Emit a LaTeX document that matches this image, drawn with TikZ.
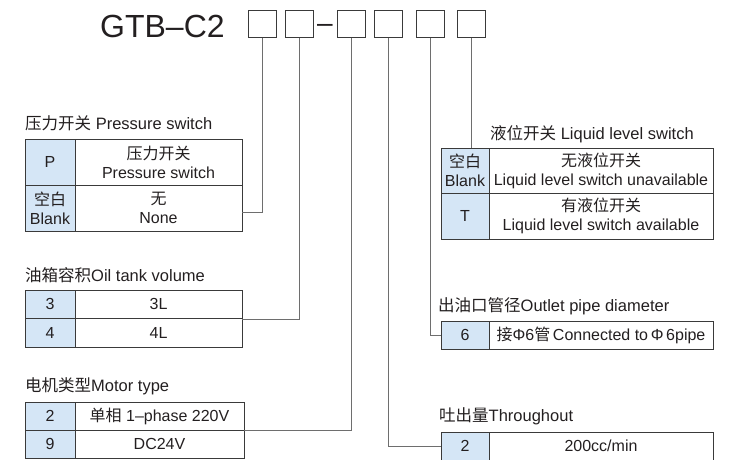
\documentclass[tikz,border=0pt]{standalone}
\usepackage{fontspec}
\setmainfont{Liberation Sans}
\newfontfamily\cjk{Noto Sans CJK SC}
\usetikzlibrary{calc}
\definecolor{cellblue}{HTML}{D5E6F6}
\definecolor{rulec}{HTML}{3A3A3A}
\definecolor{wirec}{HTML}{6E6E6E}
\definecolor{inkc}{HTML}{231F20}

\begin{document}
\begin{tikzpicture}[x=1pt,y=-1pt,text=inkc,
  box/.style={draw=rulec,line width=1pt,minimum width=28pt,minimum height=27pt,inner sep=0pt},
  code/.style={draw=rulec,line width=0.9pt,fill=cellblue,inner sep=0pt,align=center,font=\fontsize{16}{19}\selectfont},
  desc/.style={draw=rulec,line width=0.9pt,inner sep=0pt,align=center,font=\fontsize{16}{19}\selectfont},
  head/.style={anchor=base west,inner sep=0pt,font=\fontsize{16.5}{19}\selectfont},
  wire/.style={draw=wirec,line width=0.9pt}]
\clip (0,0) rectangle (735,459);

\node[anchor=base west,inner sep=0pt,font=\fontsize{32}{36}\selectfont] (model) at (100,37) {GTB–C2};
\node[box] (b1) at (262,23.5) {};
\node[box] (b2) at (299,23.5) {};
\node[anchor=base,inner sep=0pt,font=\fontsize{28}{30}\selectfont] (dash) at (325,32) {–};
\node[box] (b3) at (351,23.5) {};
\node[box] (b4) at (388,23.5) {};
\node[box] (b5) at (430,23.5) {};
\node[box] (b6) at (471,23.5) {};

\node[head] (phead) at (25,129) {{\cjk 压力开关} Pressure switch};
\node[code,minimum width=50pt,minimum height=46pt] (pp) at (50,162) {P};
\node[desc,minimum width=167pt,minimum height=46pt] (pps) at (158.5,162) {{\cjk 压力开关}\\Pressure switch};
\node[code,minimum width=50pt,minimum height=46pt] (pb) at (50,208) {{\cjk 空白}\\Blank};
\node[desc,minimum width=167pt,minimum height=46pt] (pbn) at (158.5,208) {{\cjk 无}\\None};

\node[head] (ohead) at (25,281) {{\cjk 油箱容积}Oil tank volume};
\node[code,minimum width=50pt,minimum height=28.5pt] (o3) at (50,304.25) {3};
\node[desc,minimum width=167pt,minimum height=28.5pt] (o3l) at (158.5,304.25) {3L};
\node[code,minimum width=50pt,minimum height=28.5pt] (o4) at (50,332.75) {4};
\node[desc,minimum width=167pt,minimum height=28.5pt] (o4l) at (158.5,332.75) {4L};

\node[head] (mhead) at (25,391) {{\cjk 电机类型}Motor type};
\node[code,minimum width=50pt,minimum height=28pt] (m2) at (50,416) {2};
\node[desc,minimum width=169pt,minimum height=28pt] (m2p) at (159.5,416) {{\cjk 单相} 1–phase 220V};
\node[code,minimum width=50pt,minimum height=28pt] (m9) at (50,444) {9};
\node[desc,minimum width=169pt,minimum height=28pt] (m9d) at (159.5,444) {DC24V};

\node[head] (lhead) at (490,139) {{\cjk 液位开关} Liquid level switch};
\node[code,minimum width=48pt,minimum height=45pt] (lb) at (465,170.5) {{\cjk 空白}\\Blank};
\node[desc,minimum width=224pt,minimum height=45pt] (lbn) at (601,170.5) {{\cjk 无液位开关}\\Liquid level switch unavailable};
\node[code,minimum width=48pt,minimum height=46pt] (lt) at (465,216) {T};
\node[desc,minimum width=224pt,minimum height=46pt] (lty) at (601,216) {{\cjk 有液位开关}\\Liquid level switch available};

\node[head] (uhead) at (438,311) {{\cjk 出油口管径}Outlet pipe diameter};
\node[code,minimum width=48pt,minimum height=28pt] (u6) at (465,335) {6};
\node[desc,minimum width=224pt,minimum height=28pt] (u6d) at (601,335) {{\cjk 接}Φ6{\cjk 管}\,Connected to\,Φ\,6pipe};

\node[head] (thead) at (439,421) {{\cjk 吐出量}Throughout};
\node[code,minimum width=48pt,minimum height=28pt] (t2) at (465,446) {2};
\node[desc,minimum width=224pt,minimum height=28pt] (t2d) at (601,446) {200cc/min};

\draw[wire] (b1.south) |- ([yshift=-4pt]pbn.east);
\draw[wire] (b2.south) |- (o3l.south east);
\draw[wire] (b3.south) |- (m2p.south east);
\draw[wire] (b4.south) |- (t2.west);
\draw[wire] (b5.south) |- (u6.west);
\draw[wire] (b6.south) -- (b6.south |- lb.north);

\end{tikzpicture}
\end{document}
